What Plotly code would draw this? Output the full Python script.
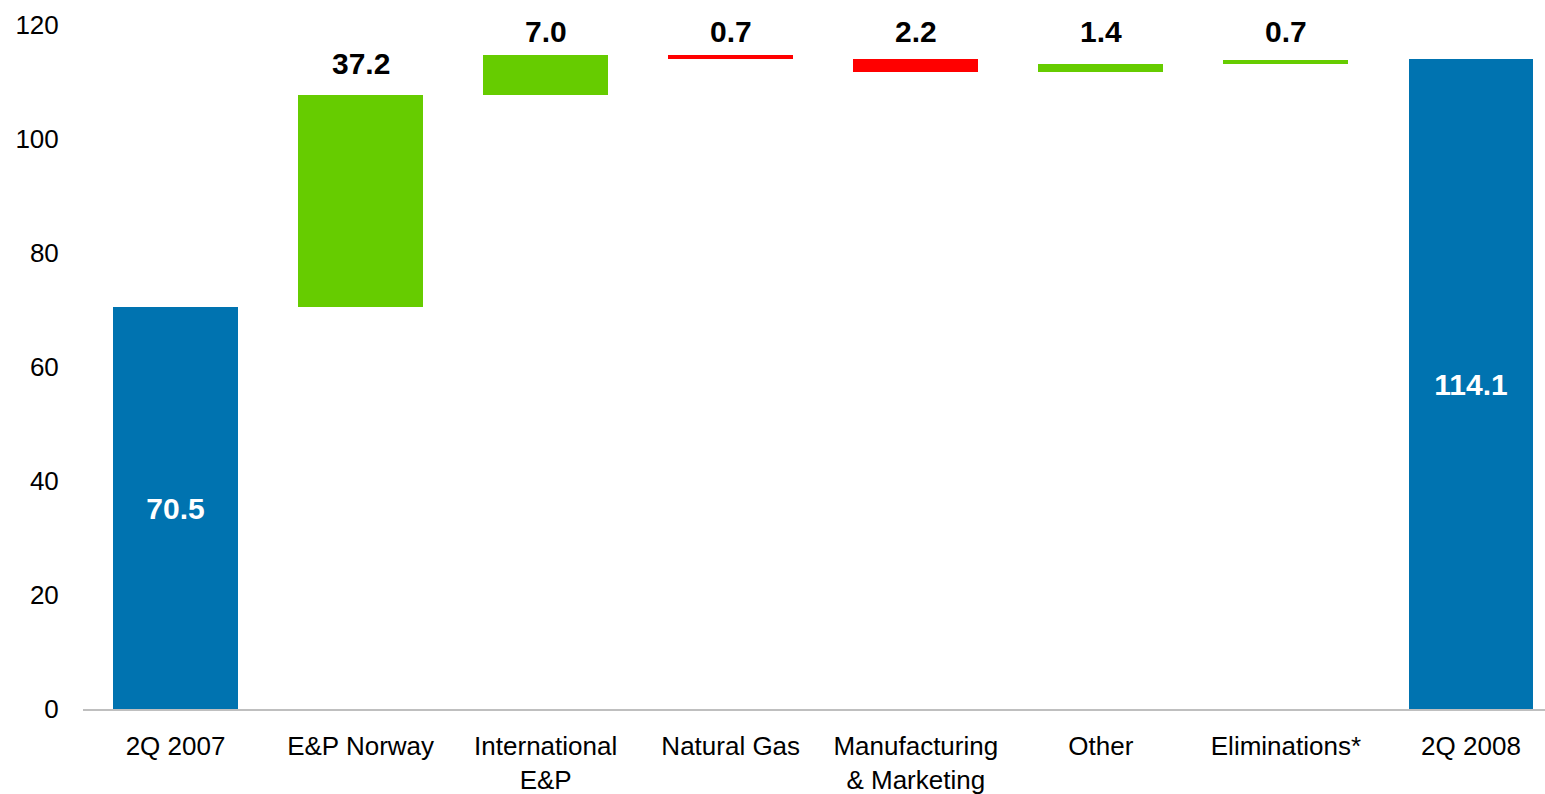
import plotly.graph_objects as go

# Net operating income bridge, 2Q 2007 -> 2Q 2008
categories = ["2Q 2007", "E&P Norway", "International<br>E&P", "Natural Gas",
              "Manufacturing<br>& Marketing", "Other", "Eliminations*", "2Q 2008"]
start_value = 70.5
changes = [37.2, 7.0, -0.7, -2.2, 1.4, 0.7]
end_value = 114.1
y_ticks = [0, 20, 40, 60, 80, 100, 120]

BLUE = "#0073B0"
GREEN = "#66CC00"
RED = "#FF0000"

# Build floating bars: base + height for each step
bases, heights, colors = [0], [start_value], [BLUE]
level = start_value
for c in changes:
    if c >= 0:
        bases.append(level)
    else:
        bases.append(level + c)
    heights.append(abs(c))
    colors.append(GREEN if c >= 0 else RED)
    level += c
bases.append(0)
heights.append(end_value)
colors.append(BLUE)

totals_text = [f"<b>{start_value:.1f}</b>"] + [""] * len(changes) + [f"<b>{end_value:.1f}</b>"]

fig = go.Figure()
fig.add_trace(go.Bar(
    x=categories, y=heights, base=bases,
    marker=dict(color=colors, line=dict(width=0)),
    width=0.675,
    text=totals_text, textposition="inside", insidetextanchor="middle",
    textfont=dict(family="Liberation Sans, Arial", size=30, color="white"),
    textangle=0,
    hoverinfo="skip",
))

# Value labels above each change bar
annotations = []
for i, c in enumerate(changes, start=1):
    top = bases[i] + heights[i]
    annotations.append(dict(
        x=categories[i], y=min(top + 5.6, 118.9), xref="x", yref="y",
        text=f"<b>{abs(c):.1f}</b>", showarrow=False,
        yanchor="middle", xanchor="center",
        font=dict(family="Liberation Sans, Arial", size=30, color="black"),
    ))

fig.update_layout(
    width=1545, height=794,
    margin=dict(l=83, r=0, t=25, b=85),
    plot_bgcolor="white", paper_bgcolor="white",
    showlegend=False,
    annotations=annotations,
    bargap=0,
    font=dict(family="Liberation Sans, Arial", color="black"),
)
fig.update_xaxes(
    type="category", range=[-0.5, 7.4], automargin=False,
    showline=True, linecolor="#BFBFBF", linewidth=2,
    showgrid=False, zeroline=False,
    ticks="outside", ticklen=13, tickcolor="rgba(0,0,0,0)",
    tickfont=dict(family="Liberation Sans, Arial", size=26, color="black"),
)
fig.update_yaxes(
    range=[0, 120], tickvals=y_ticks, automargin=False,
    showline=False, showgrid=False, zeroline=False,
    ticks="outside", ticklen=18, tickcolor="rgba(0,0,0,0)",
    tickfont=dict(family="Liberation Sans, Arial", size=26, color="black"),
)

fig.write_html("out.html")
